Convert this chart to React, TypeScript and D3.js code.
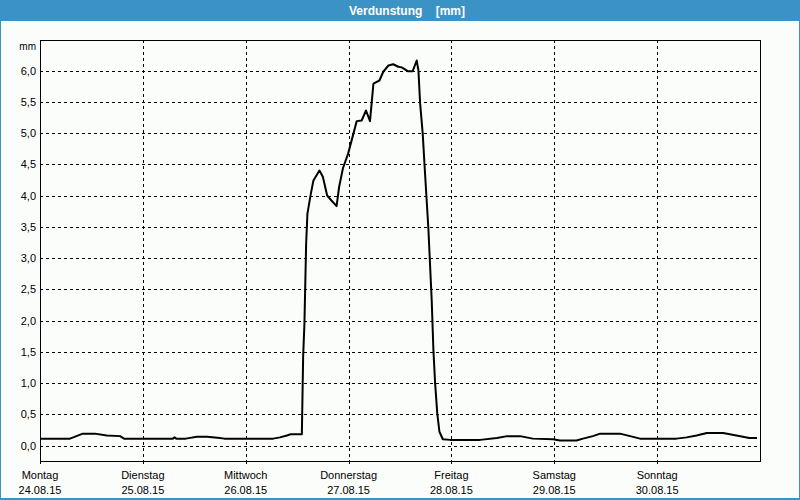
import React from "react";
import * as d3 from "d3";

// Hours since Monday 24.08.15 00:00, evaporation in mm
const hours = [
  0, 7, 8.5, 10, 12.8, 15.6, 18.7, 19.6, 31, 31.4, 31.8, 34, 36.6, 39, 42, 43, 54.4, 56, 57.6, 58.5,
  61.1, 61.4, 61.7, 62.1, 62.4, 63.2, 63.8, 65.2, 66, 67, 68, 69.2, 69.8, 70.7, 71.9, 73.9, 75.05,
  76.07, 77, 77.8, 79.2, 80.1, 81.3, 82.4, 83.6, 84.4, 85.8, 86.96, 87.9, 88.3, 88.7, 89.3, 89.8,
  90.6, 91.4, 91.8, 92.2, 92.7, 93.2, 94, 95.7, 102.7, 106.6, 109, 112, 115, 119.7, 121.3, 125.2,
  126.7, 129, 130.7, 135.3, 137.7, 140, 148.5, 150.9, 153.2, 155.6, 159.4, 162.5, 165.5, 167.3,
];
const values = [
  0.11, 0.11, 0.15, 0.19, 0.19, 0.16, 0.15, 0.11, 0.11, 0.13, 0.11, 0.11, 0.14, 0.14, 0.12, 0.11,
  0.11, 0.13, 0.16, 0.18, 0.18, 1.42, 1.95, 3.23, 3.71, 4.03, 4.24, 4.4, 4.3, 4.0, 3.92, 3.83, 4.14,
  4.44, 4.67, 5.19, 5.2, 5.36, 5.19, 5.79, 5.84, 5.98, 6.08, 6.1, 6.06, 6.05, 5.99, 5.99, 6.16, 6.0,
  5.47, 4.99, 4.4, 3.5, 2.32, 1.52, 0.99, 0.51, 0.22, 0.1, 0.09, 0.09, 0.12, 0.15, 0.15, 0.11, 0.1,
  0.08, 0.08, 0.11, 0.15, 0.19, 0.19, 0.15, 0.11, 0.11, 0.13, 0.16, 0.2, 0.2, 0.16, 0.12, 0.12,
];
const dayNames = ["Montag", "Dienstag", "Mittwoch", "Donnerstag", "Freitag", "Samstag", "Sonntag"];
const dayDates = ["24.08.15", "25.08.15", "26.08.15", "27.08.15", "28.08.15", "29.08.15", "30.08.15"];
const yTicks = [0, 0.5, 1, 1.5, 2, 2.5, 3, 3.5, 4, 4.5, 5, 5.5, 6];
const title = "Verdunstung    [mm]";
const unit = "mm";

const W = 800;
const H = 500;
const left = 40;
const right = 760;
const top = 40;
const bottom = 461;
const font = "'Liberation Sans', Arial, sans-serif";

export default function App() {
  const x = d3.scaleLinear().domain([0, 168]).range([left, right]);
  const y = d3.scaleLinear().domain([0, 6]).range([445.5, 70.5]);
  const pts: [number, number][] = hours.map((h, i) => [h, values[i]]);
  const line = d3
    .line<[number, number]>()
    .x((d) => x(d[0]))
    .y((d) => y(d[1]));
  const fmt = (v: number) => v.toFixed(1).replace(".", ",");
  const days = dayNames.map((_, i) => i * 24);

  return (
    <svg
      width={W}
      height={H}
      style={{ position: "absolute", left: 0, top: 0, display: "block" }}
    >
      <rect x={0} y={0} width={W} height={H} fill="#fbfdfb" />
      <rect x={0} y={0} width={W} height={21} fill="#3b93c5" />
      <rect x={0.5} y={0} width={W - 1} height={H - 1} fill="none" stroke="#3b93c5" strokeWidth={1} />
      <line x1={0} x2={W} y1={H - 1} y2={H - 1} stroke="#3b93c5" strokeWidth={2} />
      <text
        x={407}
        y={14.5}
        fill="#ffffff"
        fontFamily={font}
        fontWeight="bold"
        fontSize={12}
        textAnchor="middle"
        style={{ whiteSpace: "pre" }}
      >
        {title}
      </text>

      {/* horizontal grid */}
      {yTicks.map((t) => (
        <line
          key={"h" + t}
          x1={left}
          x2={right}
          y1={Math.round(y(t)) + 0.5}
          y2={Math.round(y(t)) + 0.5}
          stroke="#000"
          strokeWidth={1}
          strokeDasharray="3,3"
          shapeRendering="crispEdges"
        />
      ))}
      {/* vertical grid */}
      {days.slice(1).map((d) => (
        <line
          key={"v" + d}
          x1={Math.round(x(d)) + 0.5}
          x2={Math.round(x(d)) + 0.5}
          y1={top}
          y2={bottom}
          stroke="#000"
          strokeWidth={1}
          strokeDasharray="3,3"
          shapeRendering="crispEdges"
        />
      ))}
      {/* frame */}
      <rect
        x={left + 0.5}
        y={top + 0.5}
        width={right - left}
        height={bottom - top}
        fill="none"
        stroke="#000"
        strokeWidth={1}
        shapeRendering="crispEdges"
      />
      {/* bottom ticks */}
      {days.map((d) => (
        <line
          key={"t" + d}
          x1={Math.round(x(d)) + 0.5}
          x2={Math.round(x(d)) + 0.5}
          y1={bottom}
          y2={bottom + 3}
          stroke="#000"
          strokeWidth={1}
          shapeRendering="crispEdges"
        />
      ))}

      {/* y labels */}
      {yTicks.map((t) => (
        <text
          key={"yl" + t}
          x={36}
          y={y(t) + 4}
          fontFamily={font}
          fontSize={11}
          fill="#000"
          textAnchor="end"
        >
          {fmt(t)}
        </text>
      ))}
      <text x={36} y={50} fontFamily={font} fontSize={10} fill="#000" textAnchor="end">
        {unit}
      </text>

      {/* x labels */}
      {dayNames.map((n, i) => (
        <g key={n}>
          <text
            x={x(days[i])}
            y={479}
            fontFamily={font}
            fontSize={11}
            fill="#000"
            textAnchor="middle"
          >
            {n}
          </text>
          <text
            x={x(days[i])}
            y={494}
            fontFamily={font}
            fontSize={11}
            fill="#000"
            textAnchor="middle"
          >
            {dayDates[i]}
          </text>
        </g>
      ))}

      <path
        d={line(pts) || ""}
        fill="none"
        stroke="#000"
        strokeWidth={2}
        strokeLinejoin="round"
      />
    </svg>
  );
}
